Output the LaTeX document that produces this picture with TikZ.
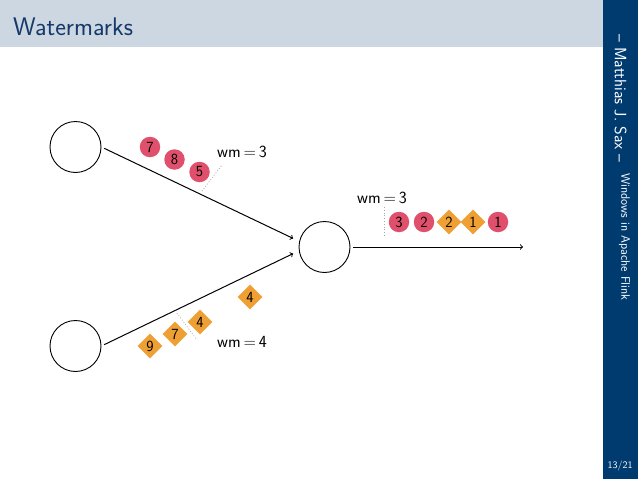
\documentclass[tikz,border=0pt]{standalone}
\usepackage{fontspec}
\usetikzlibrary{shapes.geometric}

\definecolor{headbg}{HTML}{CDD7E1}
\definecolor{sidebar}{HTML}{003B70}
\definecolor{titleblue}{HTML}{16396B}
\definecolor{evred}{HTML}{E0506C}
\definecolor{wmorange}{HTML}{EFA034}

\begin{document}
\begin{tikzpicture}[x=1pt, y=-1pt,
    op/.style={circle, draw, line width=0.9pt, minimum size=51pt, inner sep=0pt},
    ev/.style={circle, fill=evred, minimum size=20.5pt, inner sep=0pt,
        font=\sffamily\fontsize{15.5}{15.5}\selectfont},
    wmk/.style={diamond, fill=wmorange, minimum size=25pt, inner sep=0pt,
        font=\sffamily\fontsize{15.5}{15.5}\selectfont},
    wmmark/.style={dotted, gray!70, line width=0.8pt},
    wmlabel/.style={anchor=west, inner sep=0pt,
        font=\sffamily\fontsize{17}{17}\selectfont},
    flow/.style={->, line width=1pt}]
    \useasboundingbox (0,0) rectangle (638,479);

    % ==========================================
    % Slide frame: header and side bar
    % ==========================================
    \fill[headbg] (0,0) rectangle (603,47);
    \fill[sidebar] (603,0) rectangle (638,479);
    \node[anchor=base west, inner sep=0pt, text=titleblue,
        font=\sffamily\fontsize{25.5}{25.5}\selectfont] (title) at (13,35) {Watermarks};
    \node[rotate=-90, inner sep=0pt, text=white,
        font=\sffamily\fontsize{16.5}{16.5}\selectfont] (author) at (620.5,98.5) {-- Matthias J. Sax --};
    \node[rotate=-90, inner sep=0pt, text=white,
        font=\sffamily\fontsize{12.3}{12.3}\selectfont] (talk) at (624.5,237) {Windows in Apache Flink};
    \node[inner sep=0pt, text=white,
        font=\sffamily\fontsize{10}{10}\selectfont] (page) at (620,466) {13/21};

    % ==========================================
    % Operators and streams
    % ==========================================
    \node[op] (srcA) at (75.5,147) {};
    \node[op] (srcB) at (75.5,346) {};
    \node[op] (win) at (324.5,247) {};
    \coordinate (sink) at (523,247);

    \draw[flow, shorten <=3pt, shorten >=6pt] (srcA.east) -- ([yshift=6pt]win.west);
    \draw[flow, shorten <=3pt, shorten >=6pt] (srcB.east) -- ([yshift=-4pt]win.west);
    \draw[flow, shorten <=3pt] (win.east) -- (sink);

    % ==========================================
    % Upper input: events and watermark
    % ==========================================
    \node[ev] (a7) at (150,147) {7};
    \node[ev] (a8) at (174.5,159.5) {8};
    \node[ev] (a5) at (199.5,172) {5};
    \coordinate (wmA1) at (202,191);
    \coordinate (wmA2) at (222,165);
    \draw[wmmark] (wmA1) -- (wmA2);
    \node[wmlabel] (wmA) at (217,152) {wm\,=\,3};

    % ==========================================
    % Lower input: events and watermark
    % ==========================================
    \node[wmk] (b9) at (150,346) {9};
    \node[wmk] (b7) at (175,334) {7};
    \node[wmk] (b4) at (200,322) {4};
    \node[wmk] (b4b) at (250,297) {4};
    \coordinate (wmB1) at (177,313);
    \coordinate (wmB2) at (197,340);
    \draw[wmmark] (wmB1) -- (wmB2);
    \node[wmlabel] (wmB) at (217,342) {wm\,=\,4};

    % ==========================================
    % Output stream
    % ==========================================
    \node[ev] (c3) at (399,222) {3};
    \node[ev] (c2) at (424,222) {2};
    \node[wmk] (c2b) at (449,222) {2};
    \node[wmk] (c1) at (473,222) {1};
    \node[ev] (c1b) at (498,222) {1};
    \coordinate (wmC1) at (384,207);
    \coordinate (wmC2) at (384,237);
    \draw[wmmark] (wmC1) -- (wmC2);
    \node[wmlabel] (wmC) at (357,198) {wm\,=\,3};
\end{tikzpicture}
\end{document}
